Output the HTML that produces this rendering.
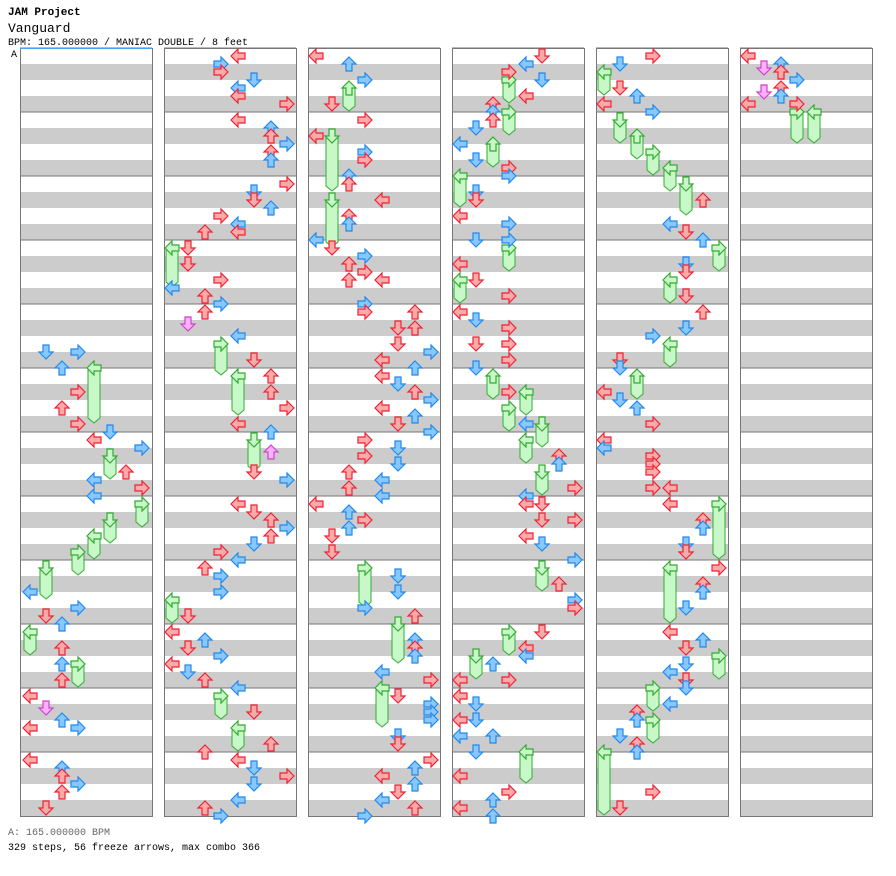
<!DOCTYPE html>
<html><head><meta charset="utf-8"><style>
body{margin:0;background:#fff;}
svg{display:block}
text{font-family:"Liberation Mono",monospace;}
</style></head><body>
<svg id="s" width="896" height="876" xmlns="http://www.w3.org/2000/svg">
<text x="8" y="15" font-size="11" font-weight="bold">JAM Project</text>
<text x="8" y="32" font-size="13">Vanguard</text>
<text x="8" y="45" font-size="10">BPM: 165.000000 / MANIAC DOUBLE / 8 feet</text>
<text x="11" y="57" font-size="10">A</text>
<text x="8" y="835" font-size="10" fill="#666">A: 165.000000 BPM</text>
<text x="8" y="850" font-size="10">329 steps, 56 freeze arrows, max combo 366</text>
<g id="g"></g>
</svg>
<script>
var NS="http://www.w3.org/2000/svg",g=document.getElementById("g"),h="";
for(var c=0;c<6;c++){var x0=20+144*c;
 for(var m=0;m<12;m++){var y=48+m*64;
  h+='<rect x="'+x0+'" y="'+(y+16)+'" width="132" height="16" fill="#cccccc"/><rect x="'+x0+'" y="'+(y+48)+'" width="132" height="16" fill="#cccccc"/>';
  h+='<line x1="'+x0+'" y1="'+y+'" x2="'+(x0+132)+'" y2="'+y+'" stroke="#777"/>';}
 h+='<rect x="'+(x0+.5)+'" y="48.5" width="132" height="768" fill="none" stroke="#777"/>';}
h+='<line x1="20" y1="48.5" x2="152" y2="48.5" stroke="#4aa0ff"/>';
var F="94,368,416;110,456,472;142,504,520;110,520,536;94,536,552;78,552,568;46,568,592;30,632,648;78,664,680;172,248,280;221,344,368;238,376,408;254,440,464;172,600,616;221,696,712;238,728,744;349,88,104;332,136,184;332,200,240;365,568,600;398,624,656;382,688,720;509,80,96;509,112,128;493,144,160;460,176,200;509,248,264;460,280,296;493,376,392;526,392,408;509,408,424;542,424,440;526,440,456;542,472,488;542,568,584;509,632,648;476,656,672;526,752,776;604,72,88;620,120,136;637,136,152;653,152,168;670,168,184;686,184,208;719,248,264;670,280,296;670,344,360;637,376,392;719,504,552;670,568,616;719,656,672;653,688,704;653,720,736;604,752,808;797,112,136;814,112,136";
var A="46,352,b;62,368,b;78,352,b;62,408,r;78,392,r;78,424,r;94,440,r;110,432,b;142,448,b;126,472,r;94,480,b;142,488,r;94,496,b;30,592,b;46,616,r;78,608,b;62,624,b;62,648,r;62,664,b;62,680,r;30,696,r;46,708,p;62,720,b;78,728,b;30,728,r;62,768,b;62,776,r;78,784,b;62,792,r;46,808,r;30,760,r;"+
"238,56,r;221,64,b;221,72,r;254,80,b;238,88,b;238,96,r;287,104,r;238,120,r;271,128,b;271,136,r;287,144,b;271,152,r;271,160,b;287,184,r;254,192,b;254,200,r;271,208,b;221,216,r;238,224,b;205,232,r;238,232,r;188,248,r;188,264,r;172,288,b;221,280,r;205,296,r;221,304,b;205,312,r;188,324,p;238,336,b;254,360,r;271,376,r;271,392,r;287,408,r;238,424,r;271,432,b;271,452,p;287,480,b;254,472,r;238,504,r;254,512,r;271,520,r;287,528,b;271,536,r;254,544,b;221,552,r;238,560,b;205,568,r;221,576,b;221,592,b;188,616,r;172,632,r;205,640,b;188,648,r;221,656,b;172,664,r;188,672,b;205,680,r;238,688,b;254,712,r;271,744,r;205,752,r;238,760,r;254,768,b;287,776,r;254,784,b;238,800,b;205,808,r;221,816,b;"+
"316,56,r;349,64,b;365,80,b;332,104,r;365,120,r;316,136,r;365,152,b;365,160,r;349,176,b;349,184,r;382,200,r;349,216,r;349,224,b;316,240,b;332,248,r;365,256,b;349,264,r;365,272,r;349,280,r;382,280,r;365,304,b;365,312,r;415,312,r;398,328,r;415,328,r;398,344,r;431,352,b;382,360,r;415,368,b;382,376,r;398,384,b;415,392,r;431,400,b;382,408,r;415,416,b;398,424,r;431,432,b;365,440,r;365,456,r;398,448,b;398,464,b;349,472,r;382,480,b;349,488,r;382,496,b;316,504,r;349,512,b;365,520,r;349,528,b;332,536,r;332,552,r;398,576,b;398,592,b;365,608,b;415,616,r;415,640,b;415,648,r;415,656,b;382,672,b;431,680,r;398,696,r;431,704,b;431,712,b;431,720,b;398,736,b;398,744,r;431,760,r;415,768,b;382,776,r;415,784,b;398,792,r;382,800,b;415,808,r;365,816,b;"+
"542,56,r;526,64,b;509,72,r;542,80,b;526,96,r;493,104,r;493,112,b;493,120,r;476,128,b;460,144,b;476,160,b;509,168,r;509,176,b;476,192,b;476,200,r;460,216,r;509,224,b;476,240,b;509,240,b;460,264,r;476,280,r;509,296,r;460,312,r;476,320,b;509,328,r;476,344,r;509,344,r;509,360,r;476,368,b;509,392,r;526,424,b;559,456,r;559,464,b;575,488,r;526,496,b;526,504,r;542,504,r;542,520,r;575,520,r;526,536,r;542,544,b;575,560,b;559,584,r;575,600,b;575,608,r;542,632,r;526,648,r;526,656,b;493,664,b;460,680,r;509,680,r;460,696,r;476,704,b;460,720,r;476,720,b;460,736,b;493,736,b;476,752,b;460,776,r;509,792,r;493,800,b;460,808,r;493,816,b;"+
"653,56,r;620,64,b;620,88,r;637,96,b;604,104,r;653,112,b;703,200,r;670,224,b;686,232,r;703,240,b;686,264,b;686,272,r;686,296,r;703,312,r;686,328,b;653,336,b;620,360,r;620,368,b;604,392,r;620,400,b;637,408,b;653,424,r;604,440,r;604,448,b;653,456,r;653,464,r;653,472,r;653,488,r;670,488,r;703,520,r;703,528,b;670,504,r;686,544,b;686,552,r;719,568,r;703,584,r;703,592,b;686,608,b;670,632,r;703,640,b;686,648,r;686,664,b;670,672,b;686,680,r;686,688,b;670,704,b;637,712,r;637,720,b;620,736,b;637,744,r;637,752,b;653,792,r;620,808,r;"+
"748,56,r;764,68,p;781,64,b;781,72,r;797,80,b;764,92,p;781,88,r;781,96,b;748,104,r;797,104,r";
var COL={r:["#ffaaaa","#ee2233"],b:["#88c8ff","#2288ee"],p:["#ffb0ff","#cc44cc"],g:["#c8f8c8","#33aa33"]};
function rot(x){var c=Math.floor((x-20)/144),x0=20+144*c,l=Math.round((x-x0-8)/16.5);return [0,-90,90,180][l%4];}
function arrow(x,y,c){var k=COL[c];return '<g transform="translate('+x+','+y+') rotate('+rot(x)+')"><path d="M-7,0 L0,-7 L0,-3 L7,-3 L7,3 L0,3 L0,7 Z" fill="'+k[0]+'" stroke="'+k[1]+'" stroke-width="1.2"/></g>';}
F.split(";").forEach(function(s){var a=s.split(",").map(Number);
 h+='<path d="M'+(a[0]-6)+','+a[1]+' L'+(a[0]+6)+','+a[1]+' L'+(a[0]+6)+','+(a[2]+2)+' L'+a[0]+','+(a[2]+7)+' L'+(a[0]-6)+','+(a[2]+2)+' Z" fill="#c8f8c8" stroke="#33aa33"/>';
 h+=arrow(a[0],a[1],"g");});
A.split(";").forEach(function(s){if(!s)return;var a=s.split(",");h+=arrow(+a[0],+a[1],a[2]);});
g.innerHTML=h;
</script>
</body></html>
